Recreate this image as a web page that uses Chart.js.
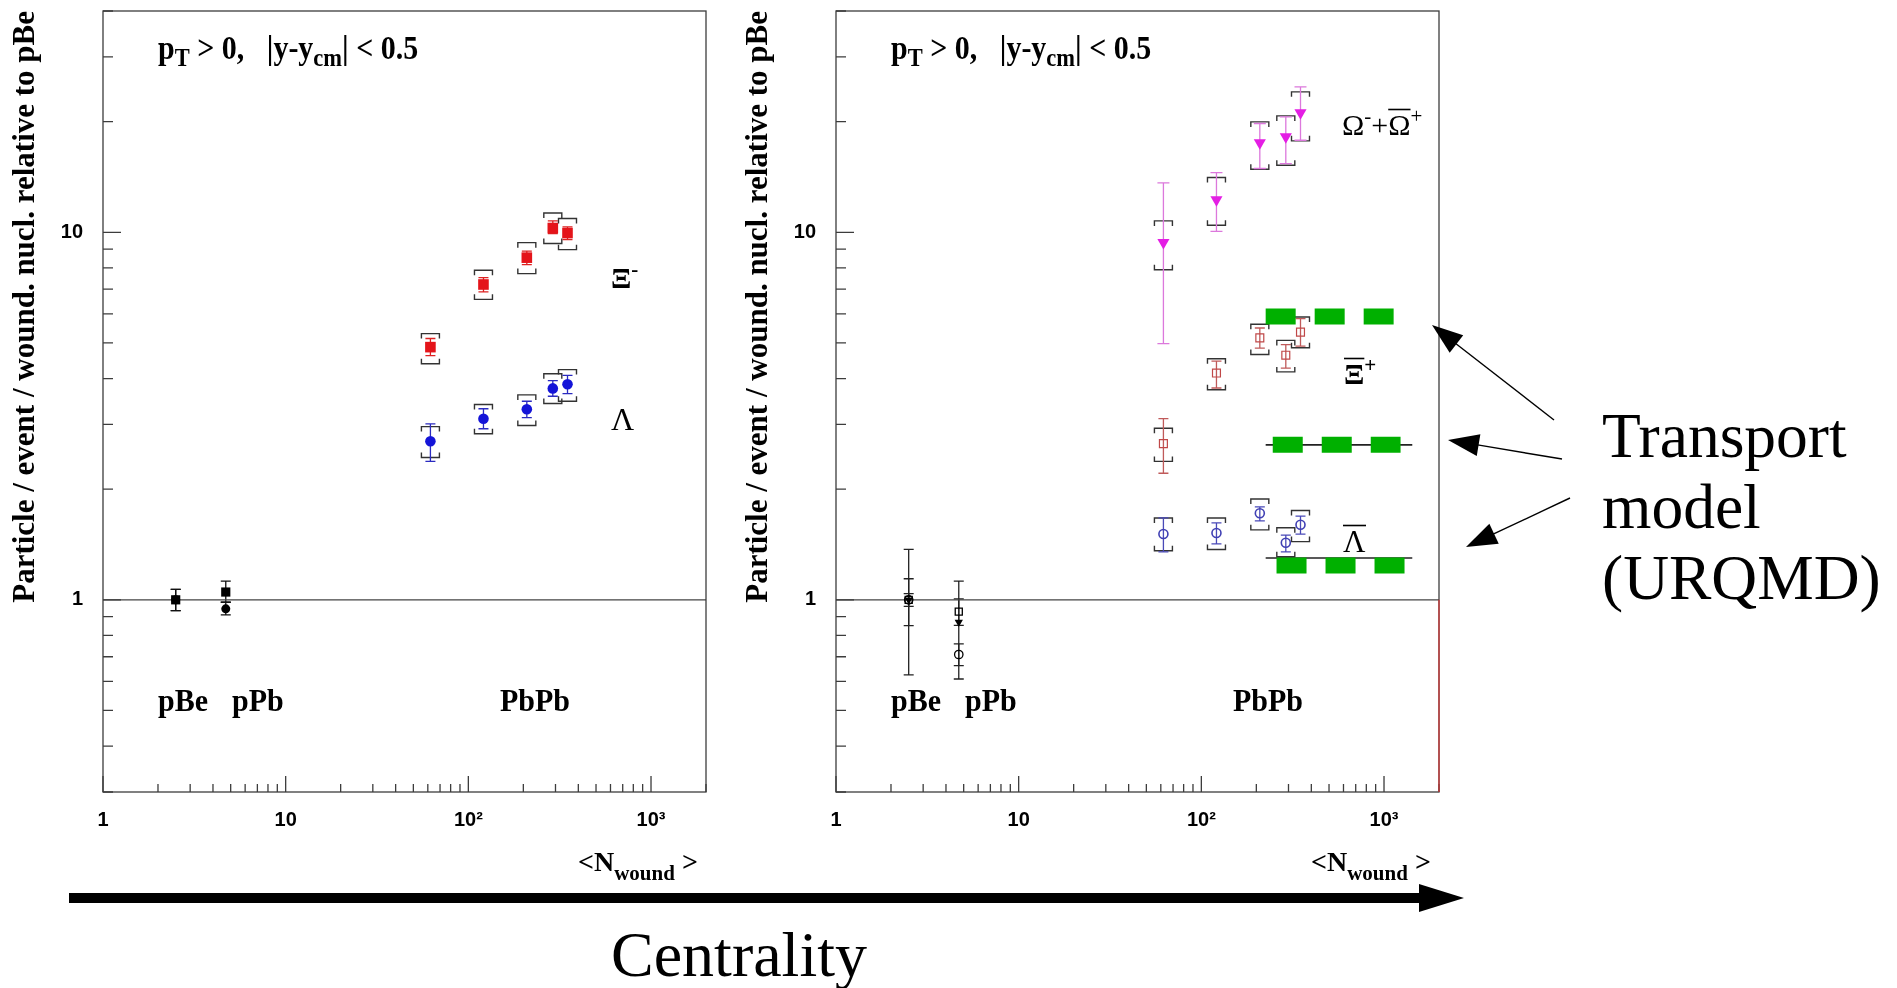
<!DOCTYPE html>
<html>
<head>
<meta charset="utf-8">
<script src="https://cdn.jsdelivr.net/npm/chart.js@4.4.1/dist/chart.umd.min.js"></script>
<style>
  html, body { margin: 0; background: #fff; }
  #page { position: relative; width: 1897px; height: 988px; overflow: hidden; }
  canvas { position: absolute; top: 0; }
  #left { left: 0; }
  #right { left: 733px; }
  #overlay { position: absolute; left: 0; top: 0; pointer-events: none; }
</style>
</head>
<body>
<div id="page">
  <canvas id="left" width="720" height="850"></canvas>
  <canvas id="right" width="720" height="850"></canvas>
  <svg id="overlay" width="1897" height="988"></svg>
</div>
<script>
// <N_wound> of the five Pb-Pb centrality classes and of the p-Be / p-Pb references
const nWound = [62, 121, 209, 290, 349];
const nWoundPA = [2.5, 4.7];

// left panel: Xi- and Lambda, [lo, hi] for stat. errors and syst. brackets
const xiMinus = [4.87, 7.21, 8.53, 10.27, 9.95];
const xiMinusStat = [[4.62, 5.14], [6.88, 7.53], [8.17, 8.89], [9.92, 10.74], [9.55, 10.34]];
const xiMinusSys = [[4.39, 5.30], [6.57, 7.88], [7.72, 9.37], [9.32, 11.28], [8.97, 10.90]];
const lambda = [2.70, 3.11, 3.30, 3.76, 3.86];
const lambdaStat = [[2.38, 3.01], [2.92, 3.31], [3.13, 3.47], [3.58, 3.95], [3.64, 4.08]];
const lambdaSys = [[2.44, 2.96], [2.83, 3.40], [2.98, 3.61], [3.42, 4.12], [3.47, 4.23]];
const xiMinusPA = [1.0, 1.05];
const xiMinusPAStat = [[0.935, 1.067], [0.985, 1.124]];
const lambdaPA = [1.0, 0.945];
const lambdaPAStat = [[0.935, 1.067], [0.91, 0.985]];

// right panel: Omega + antiOmega, anti-Xi+, anti-Lambda
const omega = [9.38, 12.27, 17.51, 18.18, 21.13];
const omegaStat = [[4.98, 13.62], [10.06, 14.54], [14.91, 19.77], [15.38, 20.6], [17.8, 24.86]];
const omegaSys = [[7.91, 10.74], [10.45, 14.09], [14.84, 19.97], [15.22, 20.73], [17.73, 24.1]];
const antiXi = [2.66, 4.14, 5.16, 4.63, 5.35];
const antiXiStat = [[2.21, 3.11], [3.77, 4.46], [4.84, 5.49], [4.27, 4.95], [4.90, 5.82]];
const antiXiSys = [[2.38, 2.93], [3.73, 4.53], [4.65, 5.62], [4.17, 5.08], [4.85, 5.88]];
const antiLambda = [1.51, 1.52, 1.72, 1.43, 1.60];
const antiLambdaStat = [[1.35, 1.67], [1.42, 1.62], [1.64, 1.79], [1.35, 1.50], [1.51, 1.69]];
const antiLambdaSys = [[1.36, 1.67], [1.37, 1.67], [1.55, 1.88], [1.31, 1.57], [1.44, 1.75]];
const omegaPA = [1.0, 0.869];
const omegaPAStat = [[0.625, 1.371], [0.609, 1.124]];
const antiXiPA = [1.0, 0.929];
const antiXiPAStat = [[0.851, 1.141], [0.852, 1.006]];
const antiLambdaPA = [1.0, 0.71];
const antiLambdaPAStat = [[0.96, 1.04], [0.662, 0.759]];

// UrQMD curves and the green dashes drawn over them
const urqmdX = [225, 1428];
const urqmdAntiXi = [2.64, 2.64];
const urqmdAntiLambda = [1.30, 1.30];
const greenOmegaX = [225, 1129];
const greenOmega = [5.90, 5.90];
const greenAntiXiX = [246, 1232];
const greenAntiXi = [2.64, 2.64];
const greenAntiLambdaX = [258, 1296];
const greenAntiLambda = [1.24, 1.24];

const unityX = [1, 2000];
const unityY = [1, 1];

const xMajorTicks = [1, 10, 100, 1000];
const xTickLabels = ['1', '10', '10²', '10³'];
const yMajorTicks = [1, 10];
const yTickLabels = ['1', '10'];

const pts = (xs, ys) => xs.map((x, i) => ({ x, y: ys[i] }));
const isDecade = v => Math.abs(Math.log10(v) - Math.round(Math.log10(v))) < 1e-9;

function logTicks(min, max) {
  const out = [];
  for (let e = Math.floor(Math.log10(min)); e <= Math.ceil(Math.log10(max)); e++) {
    for (let m = 1; m <= 9; m++) {
      const v = Number((m * Math.pow(10, e)).toPrecision(6));
      if (v >= min && v <= max) out.push({ value: v });
    }
  }
  return out;
}

function tickText(v, majors, labels) {
  const k = majors.indexOf(v);
  return k >= 0 ? labels[k] : '';
}

// stat. error bars and the [ ] syst. brackets, under the markers
const errorBars = {
  id: 'errorBars',
  beforeDatasetsDraw(chart) {
    const { ctx, chartArea: a, scales: { y } } = chart;
    ctx.save();
    ctx.beginPath();
    ctx.rect(a.left, a.top, a.width, a.height);
    ctx.clip();
    chart.data.datasets.forEach((ds, i) => {
      const meta = chart.getDatasetMeta(i);
      meta.data.forEach((pt, j) => {
        const px = pt.x;
        if (ds.errSys) {
          const yl = y.getPixelForValue(ds.errSys[j][0]);
          const yh = y.getPixelForValue(ds.errSys[j][1]);
          ctx.strokeStyle = '#333';
          ctx.lineWidth = 1.4;
          ctx.beginPath();
          ctx.moveTo(px - 9, yh + 5); ctx.lineTo(px - 9, yh); ctx.lineTo(px + 9, yh); ctx.lineTo(px + 9, yh + 5);
          ctx.moveTo(px - 9, yl - 5); ctx.lineTo(px - 9, yl); ctx.lineTo(px + 9, yl); ctx.lineTo(px + 9, yl - 5);
          ctx.stroke();
        }
        if (ds.errStat) {
          const yl = y.getPixelForValue(ds.errStat[j][0]);
          const yh = y.getPixelForValue(ds.errStat[j][1]);
          const cap = ds.capWidth || 5;
          ctx.strokeStyle = ds.statColor || '#000';
          ctx.lineWidth = 1.3;
          ctx.beginPath();
          ctx.moveTo(px, yl); ctx.lineTo(px, yh);
          ctx.moveTo(px - cap, yl); ctx.lineTo(px + cap, yl);
          ctx.moveTo(px - cap, yh); ctx.lineTo(px + cap, yh);
          ctx.stroke();
        }
      });
    });
    ctx.restore();
  }
};

// frame with inward ticks like the original plot
const framePlugin = {
  id: 'frame',
  afterDraw(chart, args, opts) {
    const { ctx, chartArea: a, scales: { x, y } } = chart;
    ctx.save();
    ctx.strokeStyle = '#3c3c3c';
    ctx.lineWidth = 1.3;
    ctx.beginPath();
    x.ticks.forEach(t => {
      const px = x.getPixelForValue(t.value);
      ctx.moveTo(px, a.bottom);
      ctx.lineTo(px, a.bottom - (isDecade(t.value) ? 16 : 8));
    });
    y.ticks.forEach(t => {
      const py = y.getPixelForValue(t.value);
      ctx.moveTo(a.left, py);
      ctx.lineTo(a.left + (isDecade(t.value) ? 18 : 10), py);
    });
    ctx.stroke();
    ctx.strokeRect(a.left, a.top, a.width, a.height);
    if (opts.redEdge) {
      ctx.strokeStyle = '#d03a3a';
      ctx.beginPath();
      ctx.moveTo(a.right, y.getPixelForValue(1));
      ctx.lineTo(a.right, a.bottom);
      ctx.stroke();
    }
    ctx.restore();
  }
};

Chart.defaults.font.family = 'Liberation Sans';
Chart.defaults.color = '#000';

function makeOptions(redEdge) {
  return {
    responsive: false,
    animation: false,
    events: [],
    layout: { padding: { left: 0, top: 11, right: 14, bottom: 18 } },
    plugins: { legend: { display: false }, tooltip: { enabled: false }, frame: { redEdge } },
    scales: {
      x: {
        type: 'logarithmic',
        min: 1,
        max: 2000,
        afterBuildTicks: s => { s.ticks = logTicks(1, 2000); },
        afterFit: s => { s.height = 40; s.paddingLeft = 0; s.paddingRight = 0; },
        grid: { display: false, drawTicks: false },
        border: { display: false },
        ticks: {
          autoSkip: false, maxRotation: 0, minRotation: 0, padding: 16,
          font: { size: 20, weight: 'bold' },
          callback: v => tickText(v, xMajorTicks, xTickLabels)
        }
      },
      y: {
        type: 'logarithmic',
        min: 0.3,
        max: 40,
        afterBuildTicks: s => { s.ticks = logTicks(0.3, 40); },
        afterFit: s => { s.width = 103; s.paddingTop = 0; s.paddingBottom = 0; },
        grid: { display: false, drawTicks: false },
        border: { display: false },
        ticks: {
          autoSkip: false, padding: 20,
          font: { size: 20, weight: 'bold' },
          callback: v => tickText(v, yMajorTicks, yTickLabels)
        },
        title: {
          display: true,
          text: 'Particle / event / wound. nucl. relative to pBe',
          align: 'end',
          color: '#000',
          font: { family: 'Liberation Serif', size: 31, weight: 'bold' },
          padding: { top: 7, bottom: 0 }
        }
      }
    }
  };
}

const unityLine = {
  data: pts(unityX, unityY), showLine: true, pointRadius: 0,
  borderColor: '#444', borderWidth: 1.3
};

new Chart(document.getElementById('left'), {
  type: 'scatter',
  data: {
    datasets: [
      { label: 'Xi-', data: pts(nWound, xiMinus), errStat: xiMinusStat, errSys: xiMinusSys,
        statColor: '#d22', pointStyle: 'rect', pointRadius: 7.5,
        backgroundColor: '#e4141a', borderColor: '#e4141a', borderWidth: 0 },
      { label: 'Lambda', data: pts(nWound, lambda), errStat: lambdaStat, errSys: lambdaSys,
        statColor: '#2a2ac0', pointStyle: 'circle', pointRadius: 5.3,
        backgroundColor: '#1414d8', borderColor: '#1414d8', borderWidth: 0 },
      { label: 'Xi- pA', data: pts(nWoundPA, xiMinusPA), errStat: xiMinusPAStat,
        statColor: '#111', pointStyle: 'rect', pointRadius: 6.5,
        backgroundColor: '#000', borderColor: '#000', borderWidth: 0 },
      { label: 'Lambda pA', data: pts(nWoundPA, lambdaPA), errStat: lambdaPAStat,
        statColor: '#111', pointStyle: 'circle', pointRadius: 4.5,
        backgroundColor: '#000', borderColor: '#000', borderWidth: 0 },
      unityLine
    ]
  },
  options: makeOptions(false),
  plugins: [errorBars, framePlugin]
});

new Chart(document.getElementById('right'), {
  type: 'scatter',
  data: {
    datasets: [
      { label: 'UrQMD Omega (mark)', data: pts(greenOmegaX, greenOmega), showLine: true, pointRadius: 0,
        borderColor: '#00b000', borderWidth: 16, borderDash: [30, 19] },
      { label: 'UrQMD antiXi (mark)', data: pts(greenAntiXiX, greenAntiXi), showLine: true, pointRadius: 0,
        borderColor: '#00b000', borderWidth: 16, borderDash: [30, 19] },
      { label: 'UrQMD antiLambda (mark)', data: pts(greenAntiLambdaX, greenAntiLambda), showLine: true, pointRadius: 0,
        borderColor: '#00b000', borderWidth: 16, borderDash: [30, 19] },
      { label: 'Omega', data: pts(nWound, omega), errStat: omegaStat, errSys: omegaSys,
        statColor: '#dc78dc', capWidth: 6, pointStyle: 'triangle', pointRotation: 180, pointRadius: 7,
        backgroundColor: '#e41ee4', borderColor: '#e41ee4', borderWidth: 0 },
      { label: 'antiXi', data: pts(nWound, antiXi), errStat: antiXiStat, errSys: antiXiSys,
        statColor: '#c05a5a', pointStyle: 'rect', pointRadius: 5.6,
        backgroundColor: 'rgba(255,255,255,0)', borderColor: '#c04848', borderWidth: 1.2 },
      { label: 'antiLambda', data: pts(nWound, antiLambda), errStat: antiLambdaStat, errSys: antiLambdaSys,
        statColor: '#4a4ab8', pointStyle: 'circle', pointRadius: 4.5,
        backgroundColor: 'rgba(255,255,255,0)', borderColor: '#4040b4', borderWidth: 1.6 },
      { label: 'Omega pA', data: pts(nWoundPA, omegaPA), errStat: omegaPAStat,
        statColor: '#222', pointStyle: 'triangle', pointRotation: 180, pointRadius: 4.8,
        backgroundColor: '#000', borderColor: '#000', borderWidth: 0 },
      { label: 'antiXi pA', data: pts(nWoundPA, antiXiPA), errStat: antiXiPAStat,
        statColor: '#222', pointStyle: 'rect', pointRadius: 5,
        backgroundColor: 'rgba(255,255,255,0)', borderColor: '#000', borderWidth: 1.3 },
      { label: 'antiLambda pA', data: pts(nWoundPA, antiLambdaPA), errStat: antiLambdaPAStat,
        statColor: '#222', pointStyle: 'circle', pointRadius: 4.2,
        backgroundColor: 'rgba(255,255,255,0)', borderColor: '#000', borderWidth: 1.3 },
      { label: 'UrQMD antiXi', data: pts(urqmdX, urqmdAntiXi), showLine: true, pointRadius: 0,
        borderColor: '#222', borderWidth: 1.6 },
      { label: 'UrQMD antiLambda', data: pts(urqmdX, urqmdAntiLambda), showLine: true, pointRadius: 0,
        borderColor: '#222', borderWidth: 1.6 },
      unityLine
    ]
  },
  options: makeOptions(true),
  plugins: [errorBars, framePlugin]
});

// ---- annotations (SVG overlay) ----
const NS = 'http://www.w3.org/2000/svg';
const svg = document.getElementById('overlay');

function svgEl(tag, attrs, parent) {
  const e = document.createElementNS(NS, tag);
  for (const k in attrs) e.setAttribute(k, attrs[k]);
  (parent || svg).appendChild(e);
  return e;
}

// parts: plain strings or [text, 'sub' | 'sup' | 'over'], stretch = vertical scale
function addText(x, y, size, weight, parts, stretch = 1, subShift = 0.28) {
  const g = svgEl('g', { transform: `translate(${x},${y}) scale(1,${stretch})` });
  const t = svgEl('text', { x: 0, y: 0, 'font-family': 'Liberation Serif', 'font-size': size, 'font-weight': weight, fill: '#000' }, g);
  t.setAttributeNS('http://www.w3.org/XML/1998/namespace', 'xml:space', 'preserve');
  t.style.whiteSpace = 'pre';
  let level = 0;
  const over = [];
  parts.forEach(p => {
    const [str, kind = ''] = Array.isArray(p) ? p : [p];
    const s = document.createElementNS(NS, 'tspan');
    s.textContent = str;
    let target = 0, fs = size;
    if (kind.includes('sub')) { target = size * subShift; fs = size * 0.75; }
    if (kind.includes('sup')) { target = -size * 0.4; fs = size * 0.7; }
    s.setAttribute('dy', target - level);
    s.setAttribute('font-size', fs);
    level = target;
    t.appendChild(s);
    if (kind.includes('over')) over.push(s);
  });
  over.forEach(s => {
    const b = s.getBBox();
    svgEl('line', { x1: b.x, x2: b.x + b.width, y1: b.y + 1.5, y2: b.y + 1.5, stroke: '#000', 'stroke-width': 1.6 }, g);
  });
  return g;
}

function arrow(x1, y1, x2, y2, headLen, halfW, width) {
  const dx = x2 - x1, dy = y2 - y1, len = Math.hypot(dx, dy);
  const ux = dx / len, uy = dy / len;
  const bx = x2 - ux * headLen, by = y2 - uy * headLen;
  svgEl('line', { x1, y1, x2: bx + ux, y2: by + uy, stroke: '#000', 'stroke-width': width });
  svgEl('polygon', {
    points: `${x2},${y2} ${bx - uy * halfW},${by + ux * halfW} ${bx + uy * halfW},${by - ux * halfW}`,
    fill: '#000'
  });
}

[0, 733].forEach(off => {
  addText(158 + off, 59, 30, 'bold', ['p', ['T', 'sub'], ' > 0,   |y-y', ['cm', 'sub'], '| < 0.5'], 1.12, 0.22);
  addText(158 + off, 711, 30, 'bold', ['pBe'], 1.05);
  addText(232 + off, 711, 30, 'bold', ['pPb'], 1.05);
  addText(500 + off, 711, 30, 'bold', ['PbPb'], 1.05);
  addText(578 + off, 871, 28, 'bold', ['<N', ['wound', 'sub'], ' >'], 1, 0.33);
});

addText(611, 288, 30, 'bold', ['Ξ', ['-', 'sup']]);
addText(611, 430, 32, 'normal', ['Λ']);
addText(1342, 135, 30, 'normal', ['Ω', ['-', 'sup'], '+', ['Ω', 'over'], ['+', 'sup']]);
addText(1344, 384, 30, 'bold', [['Ξ', 'over'], ['+', 'sup']]);
addText(1343, 552, 31, 'normal', [['Λ', 'over']]);

addText(1602, 457, 63.5, 'normal', ['Transport']);
addText(1602, 528, 63.5, 'normal', ['model']);
addText(1602, 599, 63.5, 'normal', ['(URQMD)']);
addText(611, 976, 64, 'normal', ['Centrality']);

// centrality arrow
svgEl('rect', { x: 69, y: 893, width: 1352, height: 10, fill: '#000' });
svgEl('polygon', { points: '1419,884 1464,898 1419,912', fill: '#000' });

// arrows from the "Transport model" label to the model curves
arrow(1554, 420, 1432, 325, 31, 11, 1.4);
arrow(1562, 459, 1448, 440, 31, 11, 1.4);
arrow(1570, 498, 1466, 547, 31, 11, 1.4);
</script>
</body>
</html>
